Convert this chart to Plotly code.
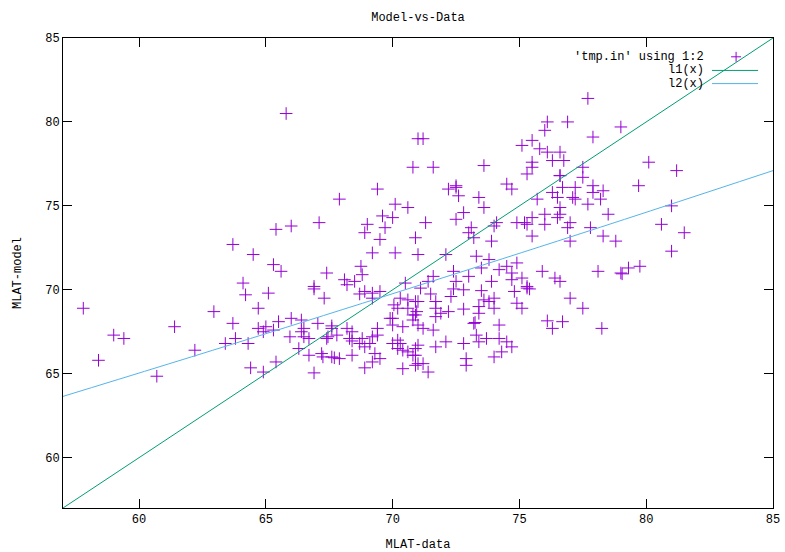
import plotly.graph_objects as go

# Scatter data ('tmp.in' using 1:2): MLAT-data vs MLAT-model
data_x = [
    57.8, 58.4, 59.0, 59.4, 60.7, 61.4, 62.2, 62.95, 63.7, 63.8, 63.4, 64.3, 64.2, 63.7, 64.1,
    69.4, 67.9, 70.1, 70.6, 69.6, 70.0, 65.4, 66.0, 67.1, 69.0, 68.9, 69.7, 69.5, 70.9,
    64.5, 69.2, 70.1, 71.0, 65.3, 65.6, 67.4, 68.75, 68.8, 68.1, 68.5, 68.2, 66.9, 70.5,
    65.8, 71.0, 70.8,
    71.2, 76.1, 76.0, 75.5, 75.1, 75.8, 76.1, 76.3, 75.5, 75.5, 75.3, 76.6, 71.6, 73.6,
    72.5, 74.5, 74.7, 72.2,
    77.7, 76.9, 79.0, 77.9, 76.6, 76.75, 77.5, 80.1, 81.2, 76.6, 77.5, 76.7, 77.2, 77.9, 79.7,
    72.5, 72.6, 73.4, 73.6, 75.7, 76.3, 76.5, 72.8, 72.5, 71.3, 73.1, 73.0, 73.2, 74.1, 74.0,
    74.9, 75.2, 75.3, 75.5, 76.0, 76.0, 76.5, 75.5, 73.9, 72.1, 73.3, 73.8, 72.4, 73.0, 73.5,
    74.2, 74.5, 74.9, 74.7, 75.1, 75.9, 76.4, 71.4, 71.6, 72.5, 73.9, 74.7, 75.3,
    78.3, 77.1, 77.2, 77.9, 78.2, 77.7, 76.6, 76.6, 77.0, 76.9, 78.5, 77.8, 81.0, 80.6, 81.5,
    78.3, 78.8, 77.0, 81.0, 79.75, 79.3, 79.0, 79.05, 78.1, 76.6,
    77.0, 77.5, 76.7, 78.25,
    71.1, 71.5, 72.4, 72.8, 73.5, 74.8, 75.3, 75.4, 71.0, 71.7, 72.3, 71.7, 71.9, 72.2, 71.7,
    72.8, 73.4, 73.6, 73.8, 74.0, 74.0, 73.4, 74.9, 75.1, 70.9, 73.2, 73.25, 74.2, 71.0, 71.2,
    71.6, 73.3, 73.4, 73.7, 74.2, 74.5, 74.7, 74.3, 74.0, 72.1, 72.8, 71.7, 71.0, 70.9, 72.9,
    72.9, 71.2, 70.9, 71.4, 76.1, 76.3,
    65.1, 64.7, 66.9, 67.3, 68.7, 68.9, 69.2, 69.5, 69.2, 70.3, 70.6, 70.9, 70.05, 70.2, 70.6,
    70.8, 70.95, 70.0, 70.4, 70.8, 66.0, 66.4, 65.5, 65.0, 64.7, 64.9, 65.3, 66.5, 67.05,
    67.6, 67.6, 65.95, 66.4, 66.5, 66.7, 66.3, 67.45, 67.4, 67.8, 68.2, 68.4, 68.4, 68.3,
    68.8, 69.1, 69.4, 69.4, 69.2, 68.7, 68.9, 69.9, 70.0, 70.2, 70.0, 70.2, 70.3, 70.4, 70.6,
    70.9, 70.8, 71.0, 70.4, 69.3, 69.5, 69.2, 68.9, 68.4, 67.7, 67.2, 67.25, 66.7, 66.9, 67.6,
    67.9, 65.4, 64.4, 64.9,
]
data_y = [
    68.9, 65.8, 67.3, 67.1, 64.85, 67.8, 66.4, 68.7, 68.0, 67.1, 66.8, 66.8, 69.7, 72.7, 70.4,
    76.0, 75.4, 75.1, 74.9, 74.4, 74.3, 73.6, 73.8, 74.0, 73.9, 73.4, 73.7, 73.0, 73.1,
    72.1, 72.2, 72.2, 72.1, 71.5, 71.1, 71.0, 71.4, 70.9, 70.6, 70.5, 70.3, 70.2, 70.4,
    80.5, 79.0, 77.3,
    79.0, 80.0, 79.5, 78.9, 78.6, 78.4, 78.2, 77.7, 77.6, 77.3, 76.9, 76.8, 77.3, 77.4,
    76.2, 76.3, 76.0, 76.0,
    81.4, 80.0, 79.7, 79.1, 78.2, 77.7, 77.3, 77.6, 77.1, 76.8, 76.7, 76.1, 76.1, 76.2, 76.2,
    76.1, 75.6, 75.5, 74.9, 75.4, 75.8, 75.5, 74.6, 74.2, 74.0, 73.7, 73.4, 73.1, 74.0, 73.8,
    74.0, 74.0, 73.9, 74.3, 74.5, 73.9, 74.3, 73.2, 72.9, 72.1, 72.0, 71.8, 71.1, 70.8, 71.3,
    71.2, 71.4, 71.6, 71.0, 70.7, 71.1, 70.7, 70.5, 70.8, 70.5, 70.5, 70.6, 70.2,
    75.9, 75.5, 75.4, 75.8, 75.4, 75.1, 74.9, 74.5, 74.0, 73.7, 74.5, 73.7, 75.0, 73.9, 73.4,
    73.2, 72.9, 72.9, 72.3, 71.4, 71.3, 71.0, 70.95, 71.1, 70.5,
    69.5, 68.9, 68.1, 67.7,
    70.1, 69.75, 70.05, 70.0, 69.95, 69.9, 70.1, 70.05, 69.3, 69.3, 69.6, 68.9, 68.6, 68.7, 68.4,
    68.85, 69.0, 69.4, 69.3, 69.5, 68.9, 68.6, 69.2, 68.9, 68.5, 68.0, 68.05, 67.9, 67.9, 67.7,
    67.6, 67.3, 66.9, 67.1, 67.1, 66.9, 66.6, 66.3, 66.0, 66.9, 66.8, 66.6, 66.7, 66.1, 65.9,
    65.5, 65.6, 65.5, 65.1, 68.15, 67.7,
    69.8, 68.9, 70.05, 69.5, 69.75, 69.9, 69.8, 69.9, 69.5, 69.5, 69.4, 69.3, 69.1, 68.9, 68.9,
    68.5, 68.7, 68.3, 67.8, 68.2, 68.3, 68.2, 68.1, 67.8, 67.7, 67.5, 67.6, 67.7, 68.0,
    67.85, 67.7, 67.2, 67.5, 67.2, 67.1, 66.5, 67.2, 67.1, 67.3, 67.7, 67.5, 66.95, 67.1,
    67.1, 66.8, 67.7, 67.3, 67.2, 66.8, 66.6, 68.3, 67.9, 67.0, 66.8, 66.5, 66.8, 66.4, 66.3,
    66.5, 66.1, 65.6, 65.3, 66.2, 65.9, 65.7, 65.35, 66.1, 65.95, 66.2, 66.0, 66.1, 65.05, 66.0,
    65.9, 65.7, 65.35, 65.1,
]

# l1(x) and l2(x) curves sampled at the plot edges
l1_x = [57, 85]
l1_y = [57, 85]
l2_x = [57, 64.4, 76.5, 85]
l2_y = [63.65, 67.1, 72.9, 77.1]

PURPLE = "#9400d3"
GREEN = "#009e73"
BLUE = "#56b4e9"
FONT = "Liberation Mono, DejaVu Sans Mono, monospace"

fig = go.Figure()
fig.add_trace(go.Scatter(
    x=data_x, y=data_y, mode="markers", name="'tmp.in' using 1:2",
    marker=dict(symbol="cross-thin", size=9, line=dict(color=PURPLE, width=1), color=PURPLE),
))
fig.add_trace(go.Scatter(x=l1_x, y=l1_y, mode="lines", name="l1(x)",
                         line=dict(color=GREEN, width=1)))
fig.add_trace(go.Scatter(x=l2_x, y=l2_y, mode="lines", name="l2(x)",
                         line=dict(color=BLUE, width=1), line_shape="spline"))

axis_common = dict(
    showline=True, linecolor="black", linewidth=1, mirror="ticks",
    ticks="inside", ticklen=9, tickcolor="black", tickwidth=1,
    showgrid=False, zeroline=False, dtick=5, automargin=False,
    tickfont=dict(family=FONT, size=12, color="black"),
)

fig.update_layout(
    width=785, height=552,
    margin=dict(l=63, r=12, t=38, b=44),
    paper_bgcolor="white", plot_bgcolor="white",
    showlegend=False,
    title=dict(text="Model-vs-Data", x=0.5325, xanchor="center", y=0.969, yanchor="middle",
               font=dict(family=FONT, size=12, color="black")),
    xaxis=dict(range=[57, 85], tick0=60,
               title=dict(text="MLAT-data", font=dict(family=FONT, size=12, color="black"), standoff=16),
               **axis_common),
    yaxis=dict(range=[57, 85], tick0=60,
               title=dict(text="MLAT-model", font=dict(family=FONT, size=12, color="black"), standoff=20),
               **axis_common),
)

# Manual gnuplot-style key (text right, sample to the right)
key_items = [("'tmp.in' using 1:2", 0.96, "pt", PURPLE),
             ("l1(x)", 0.931, "ln", GREEN),
             ("l2(x)", 0.903, "ln", BLUE)]
for label, yy, kind, col in key_items:
    fig.add_annotation(x=0.906, y=yy, xref="paper", yref="paper", text=label, showarrow=False,
                       xanchor="right", yanchor="middle",
                       font=dict(family=FONT, size=12, color="black"))
    if kind == "ln":
        fig.add_shape(type="line", xref="paper", yref="paper", x0=0.914, x1=0.979, y0=yy, y1=yy,
                      line=dict(color=col, width=1))
    else:
        fig.add_shape(type="line", xref="paper", yref="paper", x0=0.941, x1=0.955, y0=yy, y1=yy,
                      line=dict(color=col, width=1))
        fig.add_shape(type="line", xref="paper", yref="paper", x0=0.948, x1=0.948,
                      y0=yy - 0.0106, y1=yy + 0.0106, line=dict(color=col, width=1))

fig.write_html("out.html")
